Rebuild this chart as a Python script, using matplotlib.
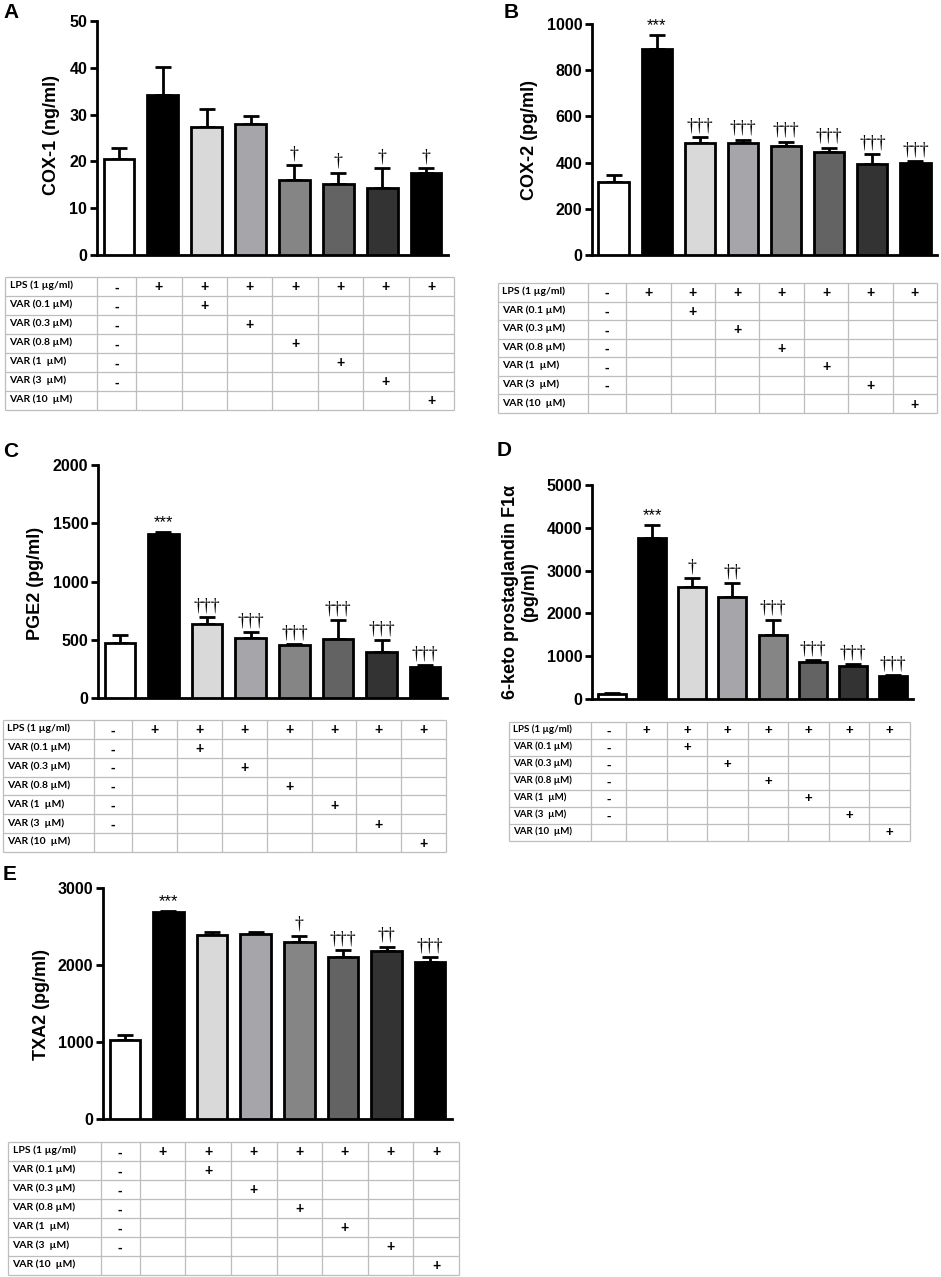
import matplotlib.pyplot as plt

W, H = 941, 1277

# group order: control, LPS, LPS + VAR 0.1 / 0.3 / 0.8 / 1 / 3 / 10 uM
cox1_mean = [20.5, 34.1, 27.4, 27.9, 16.1, 15.1, 14.4, 17.6]
cox1_err = [2.3, 6.1, 3.7, 1.8, 3.1, 2.5, 4.1, 1.0]
cox1_marks = ['', '', '', '', '†', '†', '†', '†']

cox2_mean = [318, 893, 487, 487, 470, 448, 393, 397]
cox2_err = [29, 61, 23, 12, 21, 17, 45, 9]
cox2_marks = ['', '***', '†††', '†††', '†††', '†††', '†††', '†††']

pge2_mean = [473, 1404, 639, 519, 458, 504, 395, 266]
pge2_err = [66, 23, 52, 45, 5, 164, 104, 15]
pge2_marks = ['', '***', '†††', '†††', '†††', '†††', '†††', '†††']

keto_mean = [124, 3756, 2613, 2379, 1485, 855, 762, 529]
keto_err = [10, 311, 210, 327, 366, 47, 54, 31]
keto_marks = ['', '***', '†', '††', '†††', '†††', '†††', '†††']

txa2_mean = [1030, 2688, 2385, 2407, 2303, 2108, 2182, 2035]
txa2_err = [65, 18, 44, 17, 78, 82, 56, 65]
txa2_marks = ['', '***', '', '', '†', '†††', '††', '†††']

# treatment table below each chart
row_labels = ['LPS (1 µg/ml)', 'VAR (0.1 µM)', 'VAR (0.3 µM)', 'VAR (0.8 µM)',
              'VAR (1  µM)', 'VAR (3  µM)', 'VAR (10  µM)']
row_cells = [
    ['-', '+', '+', '+', '+', '+', '+', '+'],
    ['-', '', '+', '', '', '', '', ''],
    ['-', '', '', '+', '', '', '', ''],
    ['-', '', '', '', '+', '', '', ''],
    ['-', '', '', '', '', '+', '', ''],
    ['-', '', '', '', '', '', '+', ''],
    ['', '', '', '', '', '', '', '+'],
]

bar_colors = ['white', 'black', '#d9d9d9', '#a6a5aa', '#858585', '#636363', '#333333', 'black']
col_widths = [2.03, 0.86, 1, 1, 1, 1, 1, 1, 1]

fig = plt.figure(figsize=(W / 100, H / 100), dpi=100)


def px_rect(x0, y0, x1, y1):
    return [x0 / W, 1 - y1 / H, (x1 - x0) / W, (y1 - y0) / H]


def bar_panel(box, mean, err, marks, ymax, ystep):
    ax = fig.add_axes(px_rect(*box))
    x = list(range(len(mean)))
    ax.bar(x, mean, width=0.7, color=bar_colors, edgecolor='black', linewidth=2.0, zorder=3)
    ax.errorbar(x, mean, yerr=[[0] * len(err), err], fmt='none', ecolor='black',
                elinewidth=2.0, capsize=5.5, capthick=2.0, zorder=2)
    for xi, m, e, t in zip(x, mean, err, marks):
        if not t:
            continue
        if t == '***':
            ax.annotate(t, (xi, m + e), xytext=(0, 1), textcoords='offset points',
                        ha='center', va='bottom', fontsize=12, family='Liberation Sans')
        else:
            ax.annotate(t, (xi, m + e), xytext=(0, 2), textcoords='offset points',
                        ha='center', va='bottom', fontsize=13, family='Liberation Serif')
    ax.set_xlim(-0.5, 7.5)
    ax.set_ylim(0, ymax)
    ax.set_xticks([])
    ax.set_yticks(range(0, ymax + 1, ystep))
    for s in ['top', 'right']:
        ax.spines[s].set_visible(False)
    for s in ['left', 'bottom']:
        ax.spines[s].set_linewidth(2.0)
    ax.tick_params(axis='y', width=2.0, length=5, labelsize=11.5, pad=2)
    for lbl in ax.get_yticklabels():
        lbl.set_fontweight('bold')
        lbl.set_family('Liberation Sans')
    return ax


def treatment_table(box, fs):
    ax = fig.add_axes(px_rect(*box))
    ax.axis('off')
    edges = [0]
    for w in col_widths:
        edges.append(edges[-1] + w)
    nrows = len(row_labels)
    ax.set_xlim(0, edges[-1])
    ax.set_ylim(nrows, 0)
    grid = dict(color='#bdbdbd', linewidth=0.9, clip_on=False)
    ax.hlines(range(nrows + 1), 0, edges[-1], **grid)
    ax.vlines(edges, 0, nrows, **grid)
    for r, (lab, cells) in enumerate(zip(row_labels, row_cells)):
        ax.text(0.1, r + 0.45, lab, ha='left', va='center', fontsize=fs,
                fontweight='bold', family='Lato')
        for c, sym in enumerate(cells):
            if sym:
                ax.text((edges[c + 1] + edges[c + 2]) / 2, r + 0.55, sym, ha='center',
                        va='center', fontsize=fs + 2.5, fontweight='bold', family='Liberation Sans')


def panel_letter(x, y, s):
    fig.text(x / W, 1 - y / H, s, fontsize=15, fontweight='bold', family='Liberation Sans',
             ha='left', va='center')


def ylabel(x, y, s):
    fig.text(x / W, 1 - y / H, s, rotation=90, fontsize=13, fontweight='bold',
             family='Liberation Sans', ha='center', va='center', multialignment='center',
             linespacing=1.0)


# A
bar_panel((97, 21, 448, 255), cox1_mean, cox1_err, cox1_marks, 50, 10)
ylabel(52, 135, 'COX-1 (ng/ml)')
panel_letter(3, 13, 'A')
treatment_table((5, 277, 454, 410), 7.5)

# B
bar_panel((592, 24, 937, 255), cox2_mean, cox2_err, cox2_marks, 1000, 200)
ylabel(530, 140, 'COX-2 (pg/ml)')
panel_letter(504, 13, 'B')
treatment_table((498, 283, 937, 413), 7.5)

# C
bar_panel((98, 465, 447, 698), pge2_mean, pge2_err, pge2_marks, 2000, 500)
ylabel(36, 583, 'PGE2 (pg/ml)')
panel_letter(3, 452, 'C')
treatment_table((3, 720, 446, 852), 7.5)

# D
bar_panel((592, 485, 913, 699), keto_mean, keto_err, keto_marks, 5000, 1000)
ylabel(519, 592, '6-keto prostaglandin F1$\\mathregular{\\alpha}$\n(pg/ml)')
panel_letter(497, 451, 'D')
treatment_table((509, 722, 910, 841), 7)

# E
bar_panel((103, 888, 452, 1119), txa2_mean, txa2_err, txa2_marks, 3000, 1000)
ylabel(42, 1004, 'TXA2 (pg/ml)')
panel_letter(3, 874, 'E')
treatment_table((8, 1142, 459, 1275), 7.5)

fig.savefig('out.png', dpi=100)
